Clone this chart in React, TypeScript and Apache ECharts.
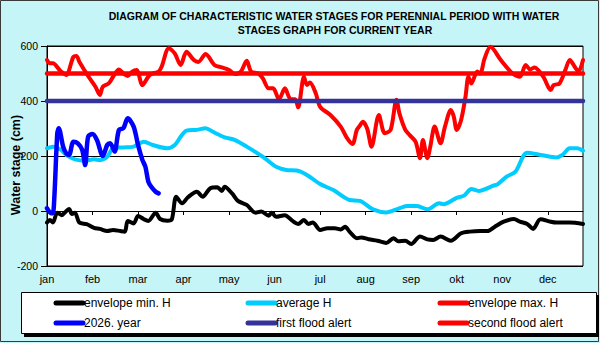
import React, { useEffect, useRef } from "react";
import * as echarts from "echarts";

const months = ["jan", "feb", "mar", "apr", "may", "jun", "jul", "aug", "sep", "okt", "nov", "dec"];
const yTicks = [-200, 0, 200, 400, 600];

const titleLine1 = "DIAGRAM OF CHARACTERISTIC WATER STAGES FOR PERENNIAL PERIOD WITH WATER";
const titleLine2 = "STAGES GRAPH FOR CURRENT YEAR";
const yName = "Water stage (cm)";

const seriesNames = ["envelope min. H", "average H", "envelope max. H", "2026. year", "first flood alert", "second flood alert"];
const seriesColors = ["#000000", "#00ccff", "#ff0000", "#0000ff", "#333399", "#ff0000"];

// [day of year, water stage cm]
const envelopeMin = [[0,-42],[2,-33],[4,-42],[7,-6],[10,-15],[12,-6],[15,7],[17,-11],[19,-6],[22,-42],[27,-48],[32,-61],[36,-65],[41,-73],[45,-69],[50,-73],[53,-75],[55,-36],[59,-45],[62,-18],[66,-30],[69,-36],[74,-6],[77,-29],[82,-35],[85,-30],[88,52],[92,28],[96,50],[102,70],[106,52],[111,82],[116,86],[119,73],[121,88],[126,64],[130,37],[136,22],[142,-6],[146,-2],[151,-17],[153,-6],[156,-21],[162,-15],[167,-35],[171,-47],[175,-33],[178,-47],[181,-42],[186,-69],[191,-63],[196,-63],[200,-67],[203,-57],[206,-75],[211,-99],[214,-96],[219,-103],[225,-108],[231,-116],[236,-99],[239,-110],[244,-108],[248,-120],[254,-93],[259,-103],[263,-105],[268,-93],[275,-108],[282,-81],[288,-75],[295,-73],[300,-73],[305,-57],[311,-39],[318,-29],[322,-39],[327,-47],[331,-65],[336,-30],[343,-39],[347,-42],[356,-42],[365,-47]];

const averageH = [[0,228],[4,234],[9,224],[13,204],[19,188],[26,183],[32,188],[36,185],[41,197],[45,228],[52,231],[59,234],[66,252],[72,240],[82,228],[87,240],[91,270],[95,292],[102,295],[108,301],[113,288],[121,268],[128,258],[136,234],[145,204],[150,185],[156,161],[163,149],[170,147],[177,131],[186,98],[195,76],[206,40],[213,37],[222,6],[231,-5],[239,8],[245,18],[252,18],[259,6],[267,28],[270,25],[279,48],[284,56],[289,80],[294,73],[304,92],[307,98],[313,125],[319,143],[327,212],[336,204],[347,195],[351,204],[356,228],[361,228],[365,219]];

const envelopeMax = [[0,549],[2,537],[4,537],[9,510],[13,495],[18,561],[20,564],[22,543],[28,491],[33,452],[36,422],[38,452],[42,464],[45,488],[49,515],[52,500],[55,491],[58,507],[61,513],[65,458],[70,495],[76,507],[78,524],[83,592],[87,573],[91,531],[95,579],[100,549],[103,542],[108,571],[114,531],[119,522],[124,513],[128,498],[132,507],[136,546],[139,507],[144,500],[147,482],[151,446],[154,446],[158,406],[162,446],[166,406],[169,406],[171,377],[175,488],[177,458],[179,467],[183,428],[186,379],[193,349],[200,307],[204,268],[208,244],[211,295],[213,310],[215,325],[218,300],[221,234],[226,349],[230,283],[234,295],[238,405],[240,355],[244,295],[247,276],[251,252],[254,192],[256,258],[259,192],[261,234],[264,307],[268,246],[271,307],[275,367],[277,343],[279,295],[282,331],[285,416],[287,488],[289,464],[293,507],[295,500],[298,555],[302,597],[309,549],[317,500],[322,488],[326,531],[329,515],[332,522],[338,488],[343,440],[345,458],[349,464],[353,513],[356,549],[360,519],[362,507],[365,549]];

const year2026 = [[0,10],[3,-8],[4,-8],[5,50],[7,282],[8,301],[11,234],[13,210],[15,204],[18,252],[21,246],[24,222],[26,167],[28,270],[31,280],[34,258],[38,200],[41,240],[43,246],[46,216],[49,295],[52,301],[55,337],[59,307],[62,240],[65,185],[67,161],[69,107],[71,88],[74,70],[76,64]];

const firstFloodAlert = 400;
const secondFloodAlert = 500;
const yearDays = 365;

const FONT = '"Liberation Sans", Arial, sans-serif';

export default function App() {
  const ref = useRef<HTMLDivElement>(null);
  useEffect(() => {
    if (!ref.current) return;
    const chart = echarts.init(ref.current, null, { renderer: "svg" });
    const lineSeries = (name: string, data: number[][], color: string, width: number, smooth: number | boolean) => ({
      name,
      type: "line",
      data,
      showSymbol: false,
      symbol: "none",
      smooth,
      lineStyle: { color, width, cap: "round", join: "round" },
      itemStyle: { color },
    });
    const legendCols = [56, 248, 440];
    const legendRows = [303, 323];
    const legendGraphics: any[] = [];
    seriesNames.forEach((n, i) => {
      const col = i % 3;
      const row = Math.floor(i / 3);
      const x = legendCols[col];
      const y = legendRows[row];
      legendGraphics.push({
        type: "line",
        z: 12,
        shape: { x1: x, y1: y, x2: x + 27, y2: y },
        style: { stroke: seriesColors[i], lineWidth: 5, lineCap: "round" },
      });
      legendGraphics.push({
        type: "text",
        z: 12,
        x: x + 28,
        y,
        style: { text: n, fontSize: 12, fontFamily: FONT, fill: "#000", textAlign: "left", textVerticalAlign: "middle" },
      });
    });

    chart.setOption({
      animation: false,
      backgroundColor: "#c6f5f7",
      grid: { left: 47, top: 46, width: 536, height: 220, show: true, backgroundColor: "#ffffff", borderColor: "#000", borderWidth: 1 },
      xAxis: {
        type: "value",
        min: 0,
        max: yearDays,
        interval: 31,
        axisLine: { show: true, lineStyle: { color: "#000", width: 1 } },
        axisTick: { show: true, length: 4, lineStyle: { color: "#000" } },
        splitLine: { show: false },
        axisLabel: {
          color: "#000",
          fontSize: 11,
          fontFamily: FONT,
          margin: 7,
          showMaxLabel: false,
          formatter: (v: number) => {
            const i = Math.round(v / 31);
            return Math.abs(v - i * 31) < 0.01 && i < months.length ? months[i] : "";
          },
        },
      },
      yAxis: {
        type: "value",
        min: yTicks[0],
        max: yTicks[yTicks.length - 1],
        interval: 200,
        axisLine: { show: true, lineStyle: { color: "#000", width: 1 } },
        axisTick: { show: true, length: 6, lineStyle: { color: "#000" } },
        splitLine: { show: true, lineStyle: { color: "#000", width: 1 } },
        axisLabel: { color: "#000", fontSize: 10.5, fontFamily: FONT, margin: 9 },
      },
      series: [
        lineSeries(seriesNames[0], envelopeMin, seriesColors[0], 4, 0.3),
        lineSeries(seriesNames[1], averageH, seriesColors[1], 4, 0.3),
        lineSeries(seriesNames[2], envelopeMax, seriesColors[2], 4, 0.3),
        lineSeries(seriesNames[3], year2026, seriesColors[3], 4.5, 0.3),
        lineSeries(seriesNames[4], [[0, firstFloodAlert], [yearDays, firstFloodAlert]], seriesColors[4], 4.5, false),
        lineSeries(seriesNames[5], [[0, secondFloodAlert], [yearDays, secondFloodAlert]], seriesColors[5], 4.5, false),
      ],
      graphic: [
        { type: "rect", z: 1, shape: { x: 0.5, y: 0.5, width: 598, height: 341 }, style: { fill: "none", stroke: "#3a3a3a", lineWidth: 1 } },
        { type: "text", z: 10, x: 334, y: 16, style: { text: titleLine1, fontSize: 10.5, fontWeight: "bold", fontFamily: FONT, fill: "#000", textAlign: "center", textVerticalAlign: "middle" } },
        { type: "text", z: 10, x: 335, y: 29.5, style: { text: titleLine2, fontSize: 10.5, fontWeight: "bold", fontFamily: FONT, fill: "#000", textAlign: "center", textVerticalAlign: "middle" } },
        { type: "text", z: 10, x: 16, y: 165, rotation: Math.PI / 2, style: { text: yName, fontSize: 12.5, fontWeight: "bold", fontFamily: FONT, fill: "#000", textAlign: "center", textVerticalAlign: "middle" } },
        { type: "rect", z: 10, shape: { x: 24, y: 295, width: 575, height: 42 }, style: { fill: "#000" } },
        { type: "rect", z: 11, shape: { x: 21.5, y: 292.5, width: 575, height: 41 }, style: { fill: "#fff", stroke: "#000", lineWidth: 1 } },
        ...legendGraphics,
      ],
    });
    return () => chart.dispose();
  }, []);
  return <div ref={ref} style={{ position: "absolute", left: 0, top: 0, width: 600, height: 343 }} />;
}
